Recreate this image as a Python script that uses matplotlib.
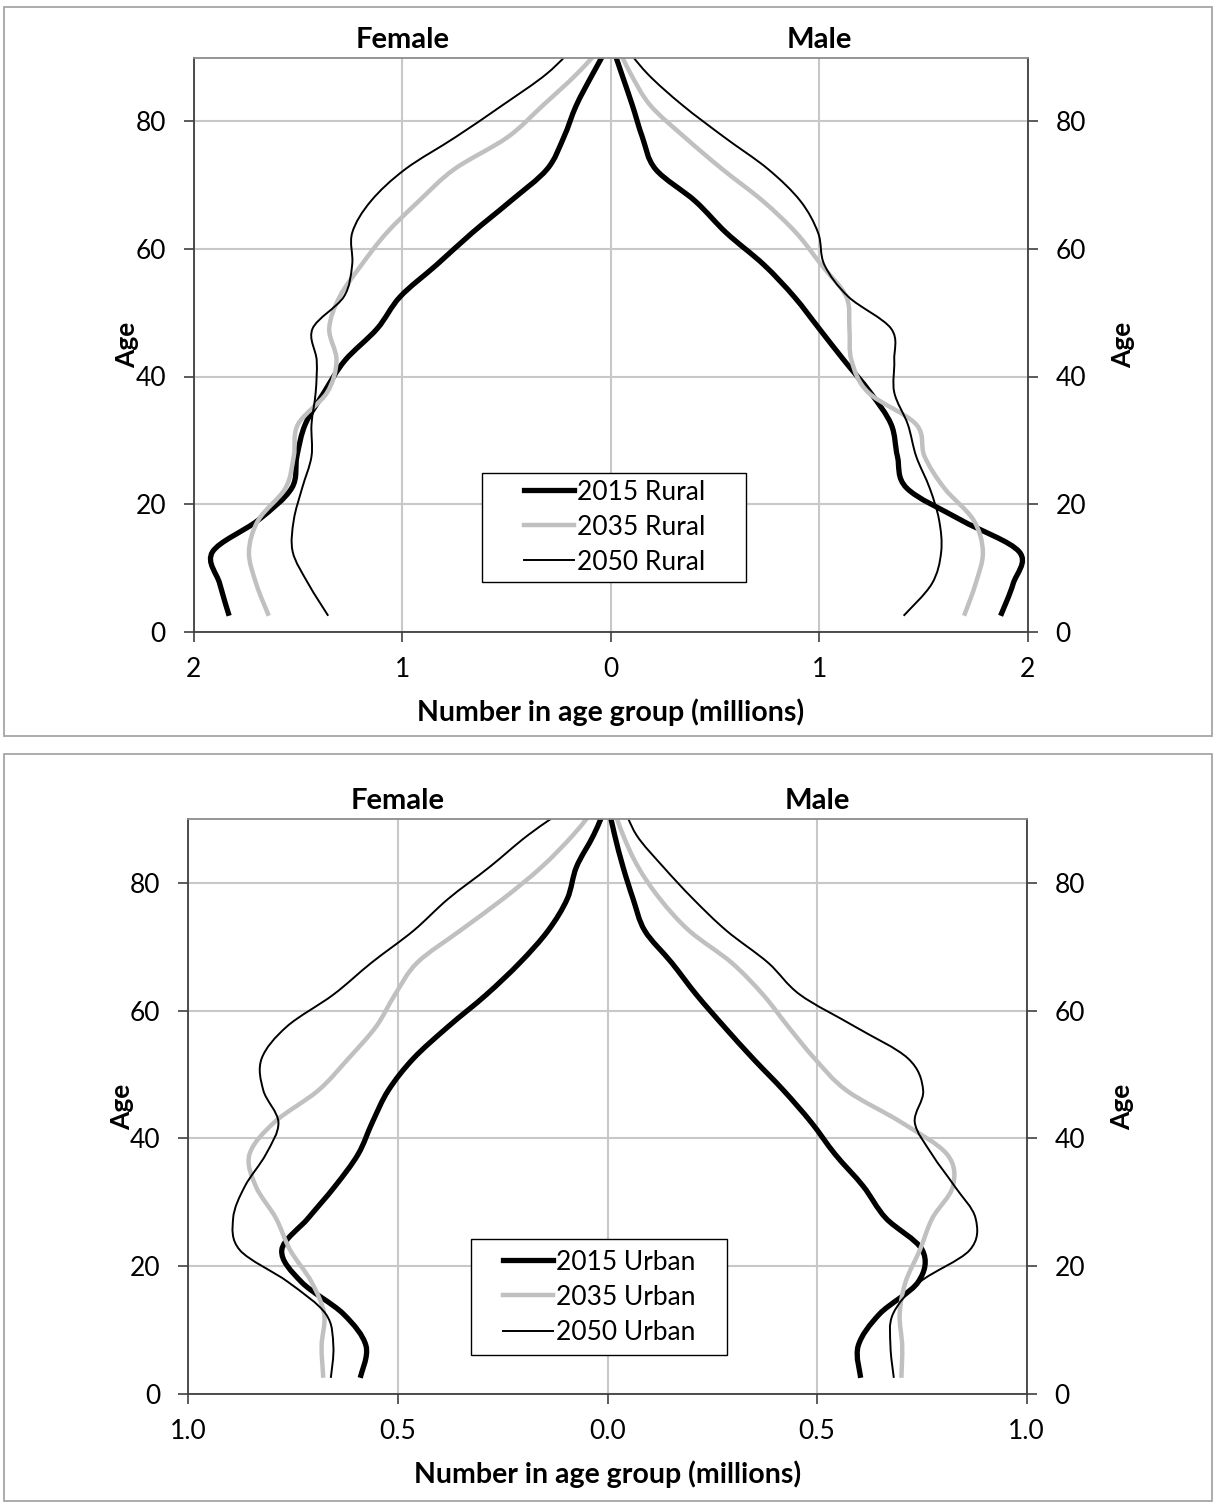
import matplotlib
matplotlib.use("Agg")
import matplotlib.pyplot as plt
from matplotlib.path import Path
from matplotlib.patches import PathPatch, Rectangle
from matplotlib.lines import Line2D

plt.rcParams['font.family'] = ['Lato', 'DejaVu Sans']

# age group mid points (last one lies above the axis and is clipped)
ages = [2.5, 7.5, 12.5, 17.5, 22.5, 27.5, 32.5, 37.5, 42.5, 47.5,
        52.5, 57.5, 62.5, 67.5, 72.5, 77.5, 82.5, 87.5, 92.5]

# rural, millions
rural_f_2015 = [1.83, 1.875, 1.91, 1.69, 1.53, 1.505, 1.465, 1.375, 1.275, 1.12,
                1.01, 0.835, 0.665, 0.48, 0.305, 0.225, 0.165, 0.085, 0.0]
rural_f_2035 = [1.64, 1.70, 1.735, 1.69, 1.56, 1.52, 1.50, 1.36, 1.315, 1.35,
                1.30, 1.195, 1.075, 0.92, 0.75, 0.495, 0.325, 0.16, 0.02]
rural_f_2050 = [1.355, 1.45, 1.525, 1.52, 1.48, 1.435, 1.435, 1.415, 1.41, 1.43,
                1.28, 1.24, 1.24, 1.15, 0.985, 0.745, 0.52, 0.305, 0.15]
rural_m_2015 = [1.87, 1.93, 1.96, 1.68, 1.42, 1.375, 1.345, 1.245, 1.12, 1.00,
                0.88, 0.735, 0.555, 0.405, 0.215, 0.152, 0.104, 0.052, 0.0]
rural_m_2035 = [1.695, 1.75, 1.785, 1.74, 1.60, 1.505, 1.465, 1.235, 1.155, 1.145,
                1.13, 1.01, 0.89, 0.73, 0.535, 0.355, 0.19, 0.095, 0.02]
rural_m_2050 = [1.405, 1.54, 1.585, 1.575, 1.53, 1.465, 1.425, 1.36, 1.36, 1.345,
                1.14, 1.025, 0.995, 0.91, 0.755, 0.545, 0.345, 0.175, 0.05]

# urban, millions
urban_f_2015 = [0.59, 0.576, 0.63, 0.73, 0.777, 0.714, 0.65, 0.595, 0.561, 0.523,
                0.463, 0.38, 0.289, 0.209, 0.142, 0.096, 0.074, 0.033, 0.0]
urban_f_2035 = [0.678, 0.682, 0.676, 0.706, 0.757, 0.791, 0.839, 0.854, 0.795, 0.69,
                0.618, 0.552, 0.507, 0.454, 0.352, 0.249, 0.157, 0.082, 0.02]
urban_f_2050 = [0.66, 0.654, 0.672, 0.762, 0.877, 0.893, 0.865, 0.815, 0.785, 0.821,
                0.825, 0.765, 0.654, 0.563, 0.463, 0.38, 0.281, 0.189, 0.08]
urban_m_2015 = [0.604, 0.598, 0.649, 0.741, 0.751, 0.664, 0.61, 0.543, 0.486, 0.42,
                0.347, 0.278, 0.212, 0.153, 0.089, 0.061, 0.037, 0.017, 0.0]
urban_m_2035 = [0.701, 0.703, 0.697, 0.711, 0.745, 0.775, 0.824, 0.81, 0.701, 0.57,
                0.494, 0.431, 0.371, 0.296, 0.195, 0.125, 0.073, 0.037, 0.01]
urban_m_2050 = [0.683, 0.675, 0.681, 0.745, 0.864, 0.878, 0.828, 0.774, 0.733, 0.753,
                0.717, 0.59, 0.459, 0.383, 0.284, 0.204, 0.133, 0.069, 0.035]

years = ["2015", "2035", "2050"]
styles = [dict(color="black", lw=3.8), dict(color="#c0c0c0", lw=3.2),
          dict(color="black", lw=1.4)]

W, H = 1213, 1502
FS = 19


def smooth_path(xs, ys):
    # Excel-like smoothed line: cubic bezier through the points
    pts = list(zip(xs, ys))
    n = len(pts)
    verts = [pts[0]]
    codes = [Path.MOVETO]
    for i in range(n - 1):
        p0 = pts[max(i - 1, 0)]
        p1 = pts[i]
        p2 = pts[i + 1]
        p3 = pts[min(i + 2, n - 1)]
        c1 = (p1[0] + (p2[0] - p0[0]) / 6, p1[1] + (p2[1] - p0[1]) / 6)
        c2 = (p2[0] - (p3[0] - p1[0]) / 6, p2[1] - (p3[1] - p1[1]) / 6)
        verts += [c1, c2, p2]
        codes += [Path.CURVE4] * 3
    return Path(verts, codes)


def draw_panel(rect, female, male, kind, lim, ticks, ticklabels, leg_box, leg_pos):
    ax = fig.add_axes(rect)
    ax.set_xlim(-lim, lim)
    ax.set_ylim(0, 90)
    ax.set_xticks(ticks)
    ax.set_xticklabels(ticklabels)
    ax.set_yticks([0, 20, 40, 60, 80])
    ax.grid(True, color="#c8c8c8", lw=1.5)
    ax.set_axisbelow(True)
    for s in ["left", "right", "bottom"]:
        ax.spines[s].set_color("#404040")
        ax.spines[s].set_linewidth(1.3)
    ax.spines["top"].set_color("#8c8c8c")
    ax.spines["top"].set_linewidth(1.3)
    ax.tick_params(axis="both", labelsize=FS, length=7, width=1.2,
                   color="#404040", direction="out")
    ax.tick_params(axis="x", pad=11)
    ax.tick_params(axis="y", left=True, right=True, labelleft=True,
                   labelright=True, pad=13)
    ax.set_xlabel("Number in age group (millions)", fontsize=20.5,
                  fontweight="bold", labelpad=12)
    ax.set_ylabel("Age", fontsize=FS, fontweight="bold", labelpad=-3)
    ax2 = ax.secondary_yaxis("right")
    ax2.set_yticks([])
    ax2.spines["right"].set_visible(False)
    ax2.set_ylabel("Age", fontsize=FS, fontweight="bold", labelpad=60)

    handles = []
    for f, m, yr, st in zip(female, male, years, styles):
        for vals, sign in [(f, -1), (m, 1)]:
            xs = [sign * v for v in vals]
            patch = PathPatch(smooth_path(xs, ages), fill=False,
                              edgecolor=st["color"], lw=st["lw"],
                              capstyle="butt", joinstyle="round")
            ax.add_patch(patch)
        handles.append(Line2D([], [], color=st["color"], lw=st["lw"],
                              label=f"{yr} {kind}"))

    # legend frame drawn separately (wide side padding like the original)
    ax.add_patch(Rectangle(leg_box[:2], leg_box[2], leg_box[3],
                           transform=ax.transAxes, facecolor="white",
                           edgecolor="black", lw=1.0, zorder=4))
    leg = ax.legend(handles=handles, loc="center", bbox_to_anchor=leg_pos,
                    fontsize=FS, frameon=False, handlelength=1.9,
                    handletextpad=0.1, borderpad=0.2, labelspacing=0.38)
    leg.set_zorder(5)

    ax.text(-lim / 2, 91.5, "Female", ha="center", va="baseline",
            fontsize=21, fontweight="bold")
    ax.text(lim / 2, 91.5, "Male", ha="center", va="baseline",
            fontsize=21, fontweight="bold")
    return ax


fig = plt.figure(figsize=(W / 100, H / 100), dpi=100)

# panel frames
for top, bottom in [(7, 736), (754, 1501)]:
    fig.add_artist(Rectangle((4 / W, 1 - bottom / H), (W - 5) / W,
                             (bottom - top) / H, transform=fig.transFigure,
                             fill=False, edgecolor="#a6a6a6", lw=1.3))

draw_panel([193.7 / W, 1 - 631.7 / H, 834 / W, 574.2 / H],
           [rural_f_2015, rural_f_2035, rural_f_2050],
           [rural_m_2015, rural_m_2035, rural_m_2050],
           "Rural", 2, [-2, -1, 0, 1, 2], ["2", "1", "0", "1", "2"],
           (0.3457, 0.0866, 0.3165, 0.1898), (0.505, 0.182))

draw_panel([188.3 / W, 1 - 1393.8 / H, 838.4 / W, 574.8 / H],
           [urban_f_2015, urban_f_2035, urban_f_2050],
           [urban_m_2015, urban_m_2035, urban_m_2050],
           "Urban", 1, [-1, -0.5, 0, 0.5, 1],
           ["1.0", "0.5", "0.0", "0.5", "1.0"],
           (0.3372, 0.0675, 0.3053, 0.2018), (0.49, 0.168))

fig.savefig("out.png", dpi=100)
